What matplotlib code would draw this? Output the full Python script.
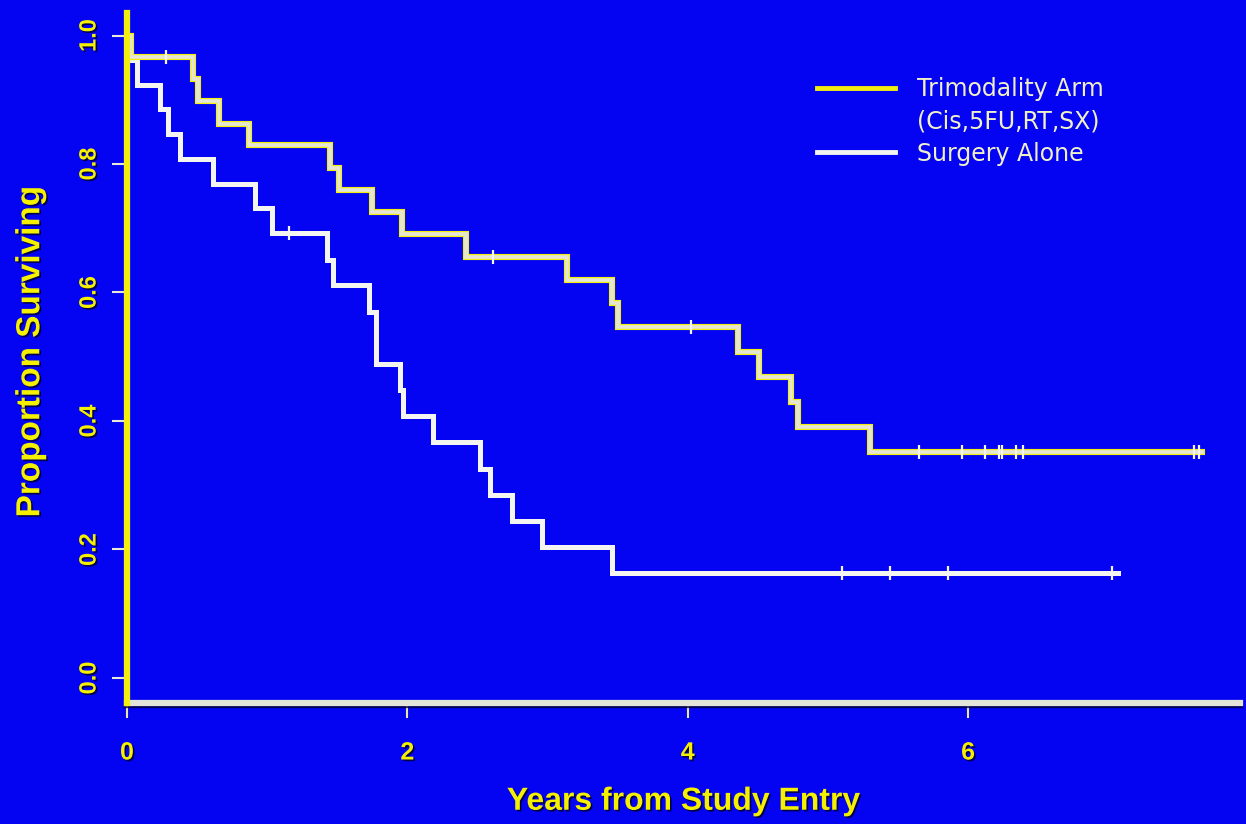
import matplotlib
matplotlib.use("Agg")
import matplotlib.pyplot as plt
from matplotlib.lines import Line2D
import matplotlib.patheffects as pe

# ---- data ----
tri_time = [0, 0.03, 0.47, 0.51, 0.66, 0.87, 1.45, 1.51, 1.75, 1.96, 2.42, 3.14,
            3.46, 3.50, 4.36, 4.51, 4.74, 4.79, 5.30, 7.67]
tri_surv = [1.0, 0.967, 0.932, 0.898, 0.863, 0.829, 0.794, 0.760, 0.725, 0.691,
            0.656, 0.620, 0.583, 0.547, 0.508, 0.469, 0.430, 0.391, 0.352, 0.352]
tri_censor_t = [0.28, 2.61, 4.02, 5.65, 5.96, 6.12, 6.22, 6.24, 6.34, 6.39, 7.61, 7.65]
tri_censor_s = [0.967, 0.656, 0.547, 0.352, 0.352, 0.352, 0.352, 0.352, 0.352, 0.352, 0.352, 0.352]

sur_time = [0, 0.03, 0.07, 0.235, 0.295, 0.378, 0.616, 0.913, 1.032, 1.424, 1.47,
            1.73, 1.78, 1.95, 1.97, 2.18, 2.52, 2.59, 2.75, 2.96, 3.46, 7.07]
sur_surv = [1.0, 0.962, 0.923, 0.885, 0.846, 0.808, 0.769, 0.731, 0.692, 0.651,
            0.611, 0.570, 0.489, 0.448, 0.407, 0.367, 0.326, 0.285, 0.244, 0.204,
            0.163, 0.163]
sur_censor_t = [1.158, 5.10, 5.44, 5.86, 7.03]
sur_censor_s = [0.692, 0.163, 0.163, 0.163, 0.163]

x_ticks = [0, 2, 4, 6]
y_ticks = [0.0, 0.2, 0.4, 0.6, 0.8, 1.0]
y_tick_labels = ["0.0", "0.2", "0.4", "0.6", "0.8", "1.0"]
legend_labels = ["Trimodality Arm", "(Cis,5FU,RT,SX)", "Surgery Alone"]

# ---- style ----
BG = "#0404F2"
YEL = "#F2EE10"
TXT = "#F4F000"
PALE = "#F0F0C8"
WHITE = "#F4F4F0"
FONT = ["Liberation Sans", "DejaVu Sans"]

fig = plt.figure(figsize=(12.46, 8.24), dpi=100, facecolor=BG)
ax = fig.add_axes([0.1019, 0.1468, 0.8933, 0.8374], facecolor=BG)

shadow = [pe.SimplePatchShadow(offset=(1.2, -1.2), shadow_rgbFace="#000040", alpha=0.9), pe.Normal()]

# Surgery alone (white)
ax.step(sur_time, sur_surv, where="post", color=WHITE, lw=3.6, zorder=3, solid_joinstyle="miter")
ax.plot(sur_censor_t, sur_censor_s, ls="none", marker="|", ms=10, mew=1.6, color=WHITE, zorder=4)

# Trimodality (yellow edged light line)
ax.step(tri_time, tri_surv, where="post", color=YEL, lw=4.4, zorder=5, solid_joinstyle="miter")
ax.step(tri_time, tri_surv, where="post", color="#E6E6D6", lw=2.6, zorder=6, solid_joinstyle="miter")
ax.plot(tri_censor_t, tri_censor_s, ls="none", marker="|", ms=10, mew=1.6, color=WHITE, zorder=7)

ax.set_xlim(0, 7.94)
ax.set_ylim(-0.039, 1.035)

for s in ["top", "right"]:
    ax.spines[s].set_visible(False)
ax.spines["left"].set_color(YEL)
ax.spines["left"].set_linewidth(4.5)
ax.spines["left"].set_zorder(8)
ax.spines["bottom"].set_color("#E4E4DA")
ax.spines["bottom"].set_linewidth(4.5)
ax.spines["bottom"].set_path_effects([pe.SimpleLineShadow(offset=(0, -1.5), shadow_color="#000030", alpha=0.8), pe.Normal()])

ax.set_xticks(x_ticks)
ax.set_xticklabels([str(v) for v in x_ticks])
ax.set_yticks(y_ticks)
ax.set_yticklabels(y_tick_labels)

ax.tick_params(axis="y", length=11, width=1.5, color="#E8E8D8", pad=8)
ax.tick_params(axis="x", length=11, width=1.5, color="#E8E8A0", pad=16)
for lbl in ax.get_yticklabels():
    lbl.set_rotation(90)
    lbl.set_va("center")
    lbl.set_ha("right")
    lbl.set_fontfamily(FONT)
    lbl.set_fontweight("bold")
    lbl.set_fontsize(17)
    lbl.set_color(TXT)
    lbl.set_path_effects(shadow)
for lbl in ax.get_xticklabels():
    lbl.set_fontfamily(FONT)
    lbl.set_fontweight("bold")
    lbl.set_fontsize(18)
    lbl.set_color(TXT)
    lbl.set_path_effects(shadow)

ax.set_xlabel("Years from Study Entry", family=FONT, fontweight="bold", fontsize=23,
              color=TXT, labelpad=16, path_effects=shadow)
ax.set_ylabel("Proportion Surviving", family=FONT, fontweight="bold", fontsize=24,
              color=TXT, labelpad=20, path_effects=shadow)
ax.yaxis.set_label_coords(-0.0725, 0.51)

handles = [Line2D([], [], color=YEL, lw=3.5),
           Line2D([], [], color="none", lw=0),
           Line2D([], [], color=WHITE, lw=3.5)]
leg = ax.legend(handles, legend_labels, loc="upper left",
                bbox_to_anchor=(817 / 1246, 1 - 77 / 824), bbox_transform=fig.transFigure,
                frameon=False, borderpad=0, borderaxespad=0, handlelength=3.3,
                handletextpad=0.93, labelspacing=0.35,
                prop={"family": ["DejaVu Sans"], "size": 17})
for t in leg.get_texts():
    t.set_color(PALE)

fig.savefig("out.png", dpi=100, facecolor=BG)
